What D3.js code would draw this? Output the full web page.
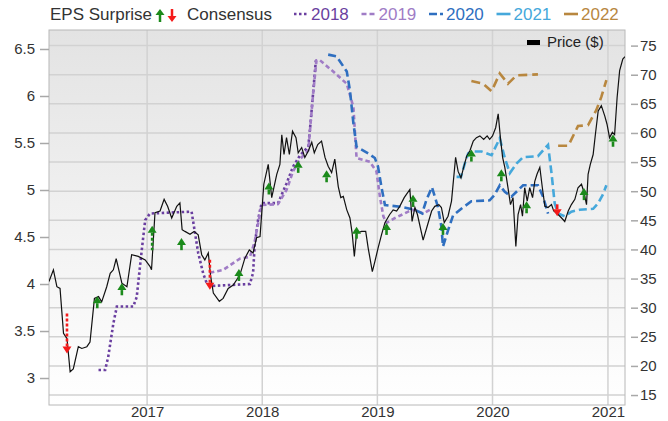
<!DOCTYPE html>
<html>
<head>
<meta charset="utf-8">
<script src="https://cdn.jsdelivr.net/npm/d3@7"></script>
<style>
  body { margin: 0; background: #fff; }
  svg text { font-family: "Liberation Sans", Arial, sans-serif; }
</style>
</head>
<body>
<div id="wrapper"></div>
<script>

// weekly-ish closing price, right axis ($)
const priceData = [
  ["2016-02-25",34.5],["2016-03-10",36.5],["2016-03-21",33.6],["2016-03-31",33.3],["2016-04-11",25.6],
  ["2016-04-22",24.7],["2016-05-02",19.0],["2016-05-12",19.5],["2016-05-28",23.3],["2016-06-08",23.0],
  ["2016-06-24",23.3],["2016-07-04",24.1],["2016-07-18",31.6],["2016-07-31",31.9],["2016-08-10",31.0],
  ["2016-08-26",33.6],["2016-09-06",35.9],["2016-09-16",36.5],["2016-09-25",38.4],["2016-10-02",36.8],
  ["2016-10-13",34.2],["2016-10-29",33.6],["2016-11-13",39.1],["2016-12-04",38.8],["2016-12-26",38.2],
  ["2017-01-10",37.1],["2017-01-15",36.5],["2017-01-26",46.3],["2017-02-11",46.6],["2017-02-24",48.6],
  ["2017-03-07",47.4],["2017-03-20",45.4],["2017-04-05",47.4],["2017-04-15",48.0],["2017-04-22",43.4],
  ["2017-05-01",43.1],["2017-05-17",42.6],["2017-05-30",43.1],["2017-06-12",42.5],["2017-06-23",39.1],
  ["2017-07-03",38.2],["2017-07-14",39.4],["2017-07-21",35.6],["2017-07-30",32.5],["2017-08-18",31.1],
  ["2017-08-30",31.6],["2017-09-15",33.3],["2017-10-01",33.9],["2017-10-22",35.6],["2017-11-07",38.5],
  ["2017-11-21",39.9],["2017-12-03",39.4],["2017-12-14",42.0],["2017-12-25",42.2],["2018-01-06",51.2],
  ["2018-01-20",54.6],["2018-01-31",48.9],["2018-02-16",52.9],["2018-02-26",54.6],["2018-03-04",59.7],
  ["2018-03-11",56.3],["2018-03-19",59.2],["2018-03-28",56.3],["2018-04-07",60.3],["2018-04-18",59.2],
  ["2018-04-25",56.6],["2018-05-06",57.5],["2018-05-16",55.8],["2018-05-27",56.9],["2018-06-07",58.4],
  ["2018-06-15",56.6],["2018-06-26",58.0],["2018-07-08",58.6],["2018-07-19",55.8],["2018-07-29",54.3],
  ["2018-08-09",53.2],["2018-08-19",55.5],["2018-08-30",50.8],["2018-09-07",48.9],["2018-09-15",49.1],
  ["2018-09-26",46.8],["2018-10-06",45.4],["2018-10-13",42.8],["2018-10-20",38.8],["2018-10-27",42.8],
  ["2018-11-12",43.1],["2018-11-25",43.1],["2018-12-03",40.2],["2018-12-16",36.2],["2018-12-24",37.9],
  ["2019-01-03",40.2],["2019-01-14",42.5],["2019-01-25",44.6],["2019-02-09",46.0],["2019-02-20",46.8],
  ["2019-03-03",46.6],["2019-03-13",47.4],["2019-03-27",48.9],["2019-04-14",50.3],["2019-04-21",44.8],
  ["2019-04-30",47.2],["2019-05-08",46.0],["2019-05-26",41.6],["2019-06-09",44.2],["2019-06-22",46.6],
  ["2019-07-02",47.4],["2019-07-15",47.7],["2019-07-23",47.2],["2019-08-01",44.6],["2019-08-13",45.7],
  ["2019-08-24",48.3],["2019-09-06",55.8],["2019-09-14",53.4],["2019-09-23",52.3],["2019-09-30",53.8],
  ["2019-10-11",56.0],["2019-10-21",56.9],["2019-11-01",58.6],["2019-11-11",59.2],["2019-11-22",59.5],
  ["2019-12-04",58.9],["2019-12-15",59.5],["2019-12-23",58.9],["2020-01-01",59.5],["2020-01-11",60.9],
  ["2020-01-19",63.3],["2020-01-26",59.2],["2020-02-02",55.8],["2020-02-09",54.1],["2020-02-19",50.6],
  ["2020-02-27",47.7],["2020-03-06",48.9],["2020-03-15",40.5],["2020-03-22",46.0],["2020-03-30",47.7],
  ["2020-04-05",45.7],["2020-04-12",50.6],["2020-04-20",48.3],["2020-04-28",50.6],["2020-05-07",48.9],
  ["2020-05-14",51.7],["2020-05-21",52.9],["2020-05-30",54.1],["2020-06-07",50.6],["2020-06-15",47.4],
  ["2020-06-25",47.2],["2020-07-06",47.7],["2020-07-13",46.6],["2020-07-27",46.0],["2020-08-07",45.4],
  ["2020-08-17",44.8],["2020-08-28",46.6],["2020-09-07",47.7],["2020-09-18",48.6],["2020-09-28",50.6],
  ["2020-10-09",51.2],["2020-10-16",50.0],["2020-10-25",47.7],["2020-10-30",52.9],["2020-11-06",54.6],
  ["2020-11-15",56.3],["2020-11-22",59.7],["2020-12-01",63.8],["2020-12-11",64.7],["2020-12-22",62.9],
  ["2020-12-29",61.5],["2021-01-06",59.2],["2021-01-15",60.1],["2021-01-22",59.7],["2021-01-30",66.1],
  ["2021-02-07",70.7],["2021-02-17",72.7],["2021-02-24",73.1],
]

// consensus EPS estimates per fiscal year, left axis
const consensus2018 = [
  ["2016-07-31",3.085],["2016-08-21",3.085],["2016-08-31",3.23],["2016-09-16",3.58],["2016-09-27",3.76],
  ["2016-11-18",3.76],["2016-11-29",3.86],["2016-12-15",4.36],["2016-12-26",4.68],["2017-01-10",4.75],
  ["2017-05-22",4.77],["2017-06-02",4.54],["2017-06-12",4.33],["2017-06-28",4.11],["2017-07-09",4.01],
  ["2017-07-25",3.98],["2017-11-23",4.0],["2017-12-03",4.12],["2017-12-08",4.41],["2017-12-19",4.69],
  ["2017-12-30",4.86],["2018-02-20",4.86],["2018-03-19",5.07],["2018-04-09",5.25],["2018-05-01",5.37],
  ["2018-05-27",5.46],["2018-06-03",5.71],["2018-06-12",6.06],["2018-06-20",6.38],
]
const consensus2019 = [
  ["2017-07-19",4.12],["2017-08-30",4.15],["2017-10-22",4.27],["2017-11-23",4.29],["2017-12-08",4.45],
  ["2017-12-30",4.84],["2018-02-20",4.85],["2018-03-19",5.0],["2018-04-09",5.2],["2018-05-01",5.33],
  ["2018-05-27",5.42],["2018-06-03",5.7],["2018-06-12",6.05],["2018-06-22",6.38],["2018-07-03",6.38],
  ["2018-08-14",6.26],["2018-09-26",6.13],["2018-10-17",5.88],["2018-10-27",5.34],["2018-12-08",5.30],
  ["2018-12-29",5.20],["2019-01-09",4.93],["2019-01-20",4.72],["2019-01-30",4.65],["2019-02-25",4.70],
  ["2019-04-09",4.77],["2019-04-30",4.79],["2019-05-26",4.75],["2019-06-22",4.80],
]
const consensus2020 = [
  ["2018-07-29",6.44],["2018-08-25",6.42],["2018-09-26",6.26],["2018-10-06",6.06],["2018-10-17",5.71],
  ["2018-10-27",5.46],["2018-12-03",5.39],["2018-12-24",5.34],["2019-01-03",5.25],["2019-01-14",5.03],
  ["2019-01-25",4.84],["2019-03-19",4.82],["2019-04-30",4.79],["2019-05-23",4.75],["2019-06-05",4.89],
  ["2019-06-23",5.03],["2019-07-12",4.82],["2019-07-23",4.61],["2019-07-28",4.40],["2019-08-13",4.57],
  ["2019-08-29",4.73],["2019-09-24",4.80],["2019-10-26",4.88],["2019-12-23",4.89],["2020-01-08",4.95],
  ["2020-01-24",5.05],["2020-02-09",4.98],["2020-03-01",4.93],["2020-04-07",5.05],["2020-05-24",5.05],
  ["2020-06-09",4.93],["2020-06-25",4.75],
]
const consensus2021 = [
  ["2019-09-09",5.14],["2019-09-23",5.14],["2019-10-05",5.28],["2019-10-16",5.39],["2019-10-26",5.41],
  ["2019-11-27",5.41],["2019-12-29",5.37],["2020-01-24",5.55],["2020-02-09",5.34],["2020-02-25",5.18],
  ["2020-03-17",5.28],["2020-04-07",5.35],["2020-05-24",5.36],["2020-06-25",5.48],["2020-07-06",5.18],
  ["2020-07-16",4.86],["2020-07-27",4.75],["2020-08-17",4.72],["2020-09-07",4.77],["2020-10-03",4.79],
  ["2020-11-15",4.80],["2020-12-01",4.86],["2020-12-17",4.96],["2020-12-27",5.05],
]
const consensus2022 = [
  ["2019-10-26",6.16],["2019-12-02",6.13],["2019-12-29",6.05],["2020-01-24",6.24],["2020-02-19",6.13],
  ["2020-03-17",6.22],["2020-05-24",6.23],["2020-06-25",null],["2020-07-27",5.47],["2020-08-28",5.47],
  ["2020-09-28",5.68],["2020-10-30",5.69],["2020-11-25",5.85],["2020-12-11",5.99],["2020-12-27",6.17],
]

// report date, consensus EPS, reported EPS
const surprises = [
  ["2016-04-22",3.69,3.26],["2016-07-27",3.77,3.87],["2016-10-13",3.88,4.01],["2017-01-17",4.36,4.62],
  ["2017-04-20",4.36,4.49],["2017-07-19",4.27,3.94],["2017-10-19",4.04,4.16],["2018-01-22",4.96,5.08],
  ["2018-04-25",5.21,5.31],["2018-07-24",5.09,5.21],["2018-10-27",4.50,4.61],["2019-01-30",4.54,4.65],
  ["2019-04-24",4.82,4.95],["2019-07-28",4.54,4.65],["2019-10-26",5.32,5.43],["2020-01-29",5.11,5.22],
  ["2020-04-18",4.77,4.88],["2020-07-24",4.78,4.72],["2020-10-17",4.93,5.02],["2021-01-17",5.46,5.59],
]

const seriesNames = ["2018", "2019", "2020", "2021", "2022"]
const leftTicks = [3, 3.5, 4, 4.5, 5, 5.5, 6, 6.5]
const rightTicks = [15, 20, 25, 30, 35, 40, 45, 50, 55, 60, 65, 70, 75]
const yearTicks = ["2017", "2018", "2019", "2020", "2021"]
const dateRange = ["2016-02-25", "2021-02-24"]
const epsRange = [2.713, 6.702]
const priceRange = [13.29, 77.68]

function drawChart() {

    const parseDate = d3.timeParse("%Y-%m-%d")
    const parseYear = d3.timeParse("%Y")

    let dimensions = {
        width: 668,
        height: 421,
        margin: {
            top: 30,
            right: 43,
            bottom: 16,
            left: 49,
        },
    }
    dimensions.boundedWidth = dimensions.width - dimensions.margin.left - dimensions.margin.right
    dimensions.boundedHeight = dimensions.height - dimensions.margin.top - dimensions.margin.bottom

    const wrapper = d3.select("#wrapper")
        .append("svg")
        .attr("width", dimensions.width)
        .attr("height", dimensions.height)

    const defs = wrapper.append("defs")
    const grad = defs.append("linearGradient")
        .attr("id", "bg-grad")
        .attr("x1", 0).attr("y1", 0).attr("x2", 0).attr("y2", 1)
    grad.append("stop").attr("offset", "0%").attr("stop-color", "#e3e3e3")
    grad.append("stop").attr("offset", "100%").attr("stop-color", "#ffffff")

    defs.append("clipPath").attr("id", "plot-clip")
        .append("rect")
        .attr("width", dimensions.boundedWidth)
        .attr("height", dimensions.boundedHeight)

    const bounds = wrapper.append("g")
        .attr("transform", `translate(${dimensions.margin.left},${dimensions.margin.top})`)

    // scales
    const xScale = d3.scaleTime()
        .domain(dateRange.map(parseDate))
        .range([0, dimensions.boundedWidth])

    const yEps = d3.scaleLinear()
        .domain(epsRange)
        .range([dimensions.boundedHeight, 0])

    const yPrice = d3.scaleLinear()
        .domain(priceRange)
        .range([dimensions.boundedHeight, 0])

    const colors = d3.scaleOrdinal()
        .domain(seriesNames)
        .range(["#6a3fa0", "#a07cc6", "#2f6fc0", "#45a8db", "#b8873f"])
    const dashes = d3.scaleOrdinal()
        .domain(seriesNames)
        .range(["2.5,2.5", "4.5,3", "8,4", "8,4", "9,5"])

    // background + grid
    bounds.append("rect")
        .attr("width", dimensions.boundedWidth)
        .attr("height", dimensions.boundedHeight)
        .attr("fill", "url(#bg-grad)")

    bounds.append("g").selectAll("line")
        .data(rightTicks)
        .join("line")
        .attr("x1", 0)
        .attr("x2", dimensions.boundedWidth)
        .attr("y1", d => yPrice(d))
        .attr("y2", d => yPrice(d))
        .attr("stroke", "#d2d2d2")
        .attr("stroke-width", 1.5)

    bounds.append("g").selectAll("line")
        .data(yearTicks.map(parseYear))
        .join("line")
        .attr("x1", d => xScale(d))
        .attr("x2", d => xScale(d))
        .attr("y1", 0)
        .attr("y2", dimensions.boundedHeight)
        .attr("stroke", "#d2d2d2")
        .attr("stroke-width", 1.5)

    bounds.append("rect")
        .attr("width", dimensions.boundedWidth)
        .attr("height", dimensions.boundedHeight)
        .attr("fill", "none")
        .attr("stroke", "#b8b8b8")

    // axes
    const leftAxis = bounds.append("g")
        .call(d3.axisLeft(yEps).tickValues(leftTicks).tickSize(9).tickPadding(5).tickFormat(d3.format("")))
    const rightAxis = bounds.append("g")
        .attr("transform", `translate(${dimensions.boundedWidth + 6},0)`)
        .call(d3.axisRight(yPrice).tickValues(rightTicks).tickSize(7).tickPadding(2))
    const bottomAxis = bounds.append("g")
        .attr("transform", `translate(0,${dimensions.boundedHeight})`)
        .call(d3.axisBottom(xScale).tickValues(yearTicks.map(parseYear)).tickSize(0).tickPadding(1).tickFormat(d3.timeFormat("%Y")))

    ;[leftAxis, rightAxis, bottomAxis].forEach(axis => {
        axis.select(".domain").remove()
        axis.selectAll(".tick line").attr("stroke", "#a8a8a8").attr("stroke-width", 1.5)
        axis.selectAll(".tick text")
            .attr("fill", "#333")
            .style("font-size", "15px")
            .style("font-family", '"Liberation Sans", Arial, sans-serif')
    })

    // consensus lines
    const plot = bounds.append("g").attr("clip-path", "url(#plot-clip)")

    const epsLine = d3.line()
        .defined(d => d[1] !== null)
        .x(d => xScale(parseDate(d[0])))
        .y(d => yEps(d[1]))

    const consensusSeries = [consensus2018, consensus2019, consensus2020, consensus2021, consensus2022]
    consensusSeries.forEach((series, i) => {
        plot.append("path")
            .datum(series)
            .attr("d", epsLine)
            .attr("fill", "none")
            .attr("stroke", colors(seriesNames[i]))
            .attr("stroke-width", 2.6)
            .attr("stroke-dasharray", dashes(seriesNames[i]))
    })

    // price line
    const priceLine = d3.line()
        .x(d => xScale(parseDate(d[0])))
        .y(d => yPrice(d[1]))

    plot.append("path")
        .datum(priceData)
        .attr("d", priceLine)
        .attr("fill", "none")
        .attr("stroke", "#111")
        .attr("stroke-width", 1.2)

    // surprise arrows
    const arrows = plot.append("g").selectAll("g")
        .data(surprises)
        .join("g")

    const headH = 7
    const headW = 9
    arrows.each(function(d) {
        const g = d3.select(this)
        const cx = xScale(parseDate(d[0]))
        const tipY = yEps(d[2])
        const up = d[2] > d[1]
        const color = up ? "#1b8a1b" : "#f51b1b"
        const baseY = up ? tipY + headH : tipY - headH
        let stemEnd = yEps(d[1])
        stemEnd = up ? Math.max(stemEnd, baseY + 5) : Math.min(stemEnd, baseY - 5)
        g.append("line")
            .attr("x1", cx).attr("x2", cx)
            .attr("y1", baseY).attr("y2", stemEnd)
            .attr("stroke", color)
            .attr("stroke-width", 2.6)
            .attr("stroke-dasharray", Math.abs(stemEnd - baseY) > 8 ? "3,2" : null)
        g.append("path")
            .attr("d", `M${cx},${tipY}L${cx - headW / 2},${baseY}L${cx + headW / 2},${baseY}Z`)
            .attr("fill", color)
    })

    // price legend
    const priceLegend = bounds.append("g")
        .attr("transform", `translate(${dimensions.boundedWidth - 98},${10})`)
    priceLegend.append("rect")
        .attr("width", 13).attr("height", 5)
        .attr("fill", "#000")
    priceLegend.append("text")
        .attr("x", 20).attr("y", 7)
        .attr("fill", "#222")
        .style("font-size", "15px")
        .text("Price ($)")

    // top legend
    const legend = wrapper.append("g")
        .attr("transform", "translate(0,-3)")
    legend.append("text")
        .attr("x", 50).attr("y", 23)
        .attr("fill", "#333")
        .style("font-size", "17px")
        .text("EPS Surprise")

    const legendArrow = (cx, up, color) => {
        const tip = up ? 12 : 25
        const base = up ? tip + 6 : tip - 6
        const end = up ? 25 : 12
        legend.append("line")
            .attr("x1", cx).attr("x2", cx).attr("y1", base).attr("y2", end)
            .attr("stroke", color).attr("stroke-width", 2.5)
        legend.append("path")
            .attr("d", `M${cx},${tip}L${cx - 4.5},${base}L${cx + 4.5},${base}Z`)
            .attr("fill", color)
    }
    legendArrow(160, true, "#1b8a1b")
    legendArrow(172, false, "#f51b1b")

    legend.append("text")
        .attr("x", 187).attr("y", 23)
        .attr("fill", "#333")
        .style("font-size", "17px")
        .text("Consensus")

    const legendX = d3.scalePoint()
        .domain(seriesNames)
        .range([294, 564])
    seriesNames.forEach(name => {
        const x0 = legendX(name)
        legend.append("line")
            .attr("x1", x0).attr("x2", x0 + 14)
            .attr("y1", 17).attr("y2", 17)
            .attr("stroke", colors(name))
            .attr("stroke-width", 2.6)
            .attr("stroke-dasharray", name === "2018" ? "2.5,2.5" : name === "2019" ? "5,3" : name === "2020" ? "8,3,3" : null)
        legend.append("text")
            .attr("x", x0 + 17).attr("y", 23)
            .attr("fill", colors(name))
            .style("font-size", "17px")
            .text(name)
    })
}

drawChart()
</script>
</body>
</html>
